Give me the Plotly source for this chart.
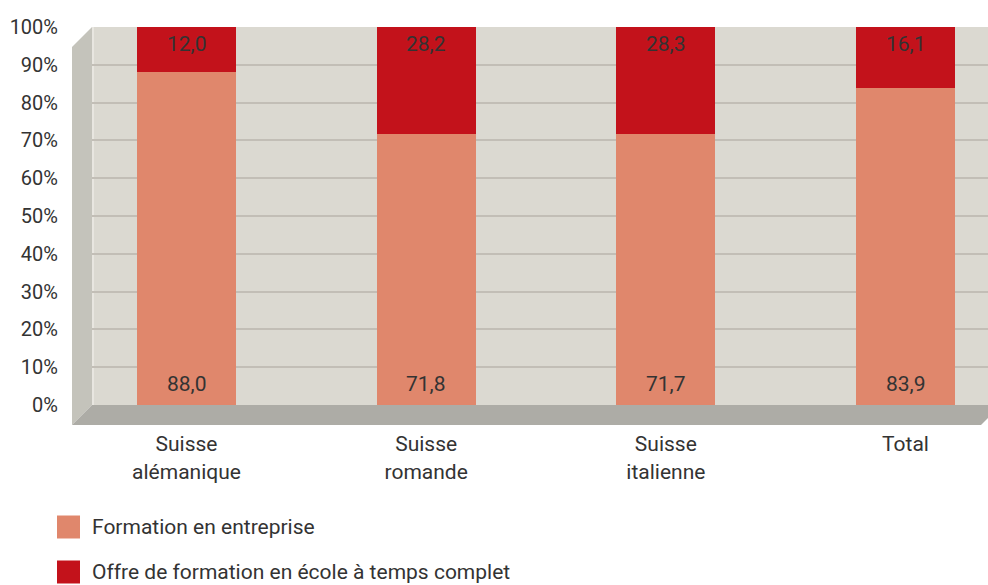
import plotly.graph_objects as go

categories = ["Suisse<br>alémanique", "Suisse<br>romande", "Suisse<br>italienne", "Total"]
series_names = ["Formation en entreprise", "Offre de formation en école à temps complet"]
entreprise = [88.0, 71.8, 71.7, 83.9]
ecole = [12.0, 28.2, 28.3, 16.1]
y_ticks = [0, 10, 20, 30, 40, 50, 60, 70, 80, 90, 100]
y_ticklabels = [f"{v}%" for v in y_ticks]

W, H = 988, 585
L, R, T, B = 92, 0, 27, 180
PW, PH = W - L - R, H - T - B

def px(x):
    return (x - L) / PW

def py(y):
    return (H - B - y) / PH

C_LIGHT = "#e0876c"
C_DARK = "#c3121b"
TXT = "#333333"
FONT = "Roboto"
FS = 21

xs = list(range(len(categories)))
unit = (905.5 - 186.5) / 3
x0 = (L - 186.5) / unit
x1 = (W - R - 186.5) / unit

fig = go.Figure()
fig.add_trace(go.Bar(x=xs, y=entreprise, name=series_names[0], marker_color=C_LIGHT,
                     marker_line_width=0, width=99 / unit, showlegend=False))
fig.add_trace(go.Bar(x=xs, y=ecole, name=series_names[1], marker_color=C_DARK,
                     marker_line_width=0, width=99 / unit, showlegend=False))

annotations = []
for i, (a, b) in enumerate(zip(entreprise, ecole)):
    annotations.append(dict(x=i, y=0, xref="x", yref="y", text=f"{a:.1f}".replace(".", ","),
                            showarrow=False, yanchor="middle", yshift=21,
                            font=dict(size=FS, color=TXT, family=FONT)))
    annotations.append(dict(x=i, y=a + b, xref="x", yref="y", text=f"{b:.1f}".replace(".", ","),
                            showarrow=False, yanchor="middle", yshift=-17,
                            font=dict(size=FS, color=TXT, family=FONT)))

shapes = []
shapes.append(dict(type="path", xref="paper", yref="paper", layer="below",
                   path=f"M {px(72)},{py(47)} L {px(92)},{py(27)} L {px(92)},{py(405)} L {px(72)},{py(425)} Z",
                   fillcolor="#c4c3bb", line=dict(width=0)))
shapes.append(dict(type="path", xref="paper", yref="paper", layer="below",
                   path=f"M {px(72)},{py(425)} L {px(92)},{py(405)} L {px(988)},{py(405)} L {px(988)},{py(418)} L {px(981)},{py(425)} Z",
                   fillcolor="#adaca6", line=dict(width=0)))
shapes.append(dict(type="line", xref="paper", yref="paper", layer="below",
                   x0=px(93), x1=px(93), y0=py(27), y1=py(405),
                   line=dict(color="#e8e6e0", width=2)))

leg_y = [527, 572]
leg_c = [C_LIGHT, C_DARK]
for name, yy, c in zip(series_names, leg_y, leg_c):
    shapes.append(dict(type="rect", xref="paper", yref="paper",
                       x0=px(57), x1=px(80), y0=py(yy - 11.5), y1=py(yy + 11.5),
                       fillcolor=c, line=dict(width=0)))
    annotations.append(dict(xref="paper", yref="paper", x=px(90), y=py(yy), text=name,
                            showarrow=False, xanchor="left", yanchor="middle",
                            font=dict(size=FS, color=TXT, family=FONT)))

fig.update_layout(
    width=W, height=H,
    margin=dict(l=L, r=R, t=T, b=B, pad=0),
    paper_bgcolor="white", plot_bgcolor="#dbd9d1",
    barmode="stack",
    font=dict(family=FONT, color=TXT, size=FS),
    shapes=shapes, annotations=annotations,
    showlegend=False,
    xaxis=dict(range=[x0, x1], tickvals=xs, ticktext=categories, showgrid=False,
               zeroline=False, showline=False, ticks="outside", ticklen=20,
               tickcolor="rgba(0,0,0,0)", tickfont=dict(size=FS, color=TXT, family=FONT),
               fixedrange=True),
    yaxis=dict(range=[0, 100], tickvals=y_ticks, ticktext=y_ticklabels, showgrid=True,
               gridcolor="#c2beb6", gridwidth=2, zeroline=False, showline=False,
               ticks="outside", ticklen=29, tickcolor="rgba(0,0,0,0)",
               tickfont=dict(size=FS - 1, color=TXT, family=FONT), fixedrange=True),
)

fig.write_html("out.html", config={"displayModeBar": False},
               post_script="document.body.style.margin='0';")
